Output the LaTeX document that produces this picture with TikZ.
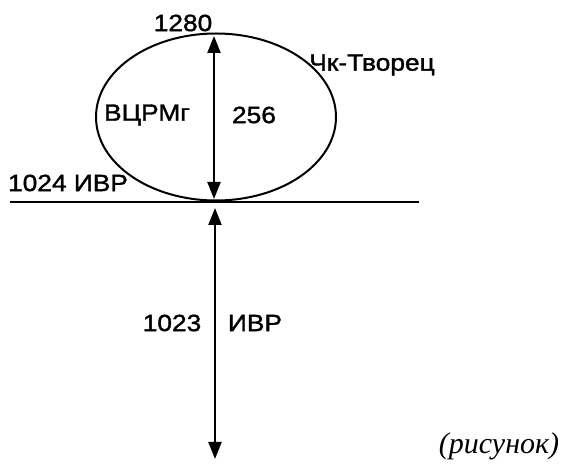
\documentclass[tikz,border=0pt]{standalone}
\usepackage{fontspec}
\setmainfont{Liberation Serif}
\setsansfont[FakeStretch=1.12,FakeBold=1.5]{Liberation Sans}
\usetikzlibrary{arrows.meta,shapes.geometric}
\begin{document}
\begin{tikzpicture}[x=1pt,y=-1pt,
  lbl/.style={font=\sffamily\fontsize{23.5}{26}\selectfont, inner sep=0pt, anchor=center},
  dbl/.style={line width=2.2pt, {Triangle[length=17pt,width=13pt]}-{Triangle[length=17pt,width=13pt]}}]
\useasboundingbox (0,0) rectangle (566,465);
\node[draw, ellipse, line width=2pt, minimum width=240pt, minimum height=167pt, inner sep=0pt] (ell) at (216,117) {};
\coordinate (hl) at (10,202);
\coordinate (hr) at (419,202);
\draw[line width=2.4pt] (hl) -- (hr);
\coordinate (utop) at (214,36);
\coordinate (ubot) at (214,199);
\draw[dbl] (utop) -- (ubot);
\coordinate (ltop) at (215,208);
\coordinate (lbot) at (215,459);
\draw[dbl] (ltop) -- (lbot);
\node[lbl] (t1280) at (183,23) {1280};
\node[lbl] (tchk) at (372,65) {Чк-Творец};
\node[lbl] (tvc) at (147,115) {ВЦРМг};
\node[lbl] (t256) at (254,115) {256};
\node[lbl] (t1024) at (68,183) {1024 ИВР};
\node[lbl] (t1023) at (172,323) {1023};
\node[lbl] (tivr) at (255,323) {ИВР};
\node[font=\itshape\fontsize{30}{34}\selectfont, inner sep=0pt, anchor=center] (tris) at (499,446) {(рисунок)};
\end{tikzpicture}
\end{document}
